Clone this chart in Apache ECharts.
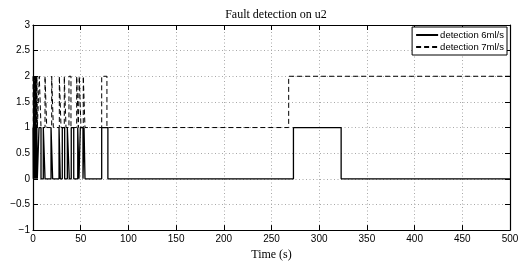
<!DOCTYPE html>
<html>
<head>
<meta charset="utf-8">
<script src="https://cdn.jsdelivr.net/npm/echarts@6/dist/echarts.min.js"></script>
<style>html,body{margin:0;padding:0;background:#fff}#c{width:526px;height:266px}</style>
</head>
<body>
<div id="c"></div>
<script>
// Switching times (s) and the value held from each time onwards
const det6Times  = [0,0.3,0.5,0.8,1.0,1.3,1.5,1.8,2.0,2.3,2.5,2.8,3.0,3.3,3.5,3.8,4.0,4.5,6.3,8.4,10.8,12.6,18.9,20.6,27.3,28.6,30.7,33.2,36,38,40.1,42.7,46.9,48.2,49.6,52.4,53.5,54.5,72,78.5,273,323,500];
const det6Values = [1,0,1,0,1,0,1,0,1,0,1,0,1,0,1,0,1,0,1,0,1,0,1,0,1,0,1,0,1,0,1,0,1,0,1,0,1,0,1,0,1,0,0];
const det7Times  = [0,0.4,0.6,0.9,1.1,1.4,1.6,1.9,2.1,2.4,2.6,2.9,3.1,3.4,3.6,3.9,4.1,4.6,6.6,8.4,12.6,14.4,19.6,21.3,27.6,29.4,32.8,34.6,37.7,39.8,45.8,47.5,48.5,50.3,52.7,54.5,72,77.5,268,500];
const det7Values = [2,1,2,1,2,1,2,1,2,1,2,1,2,1,2,1,2,1,2,1,2,1,2,1,2,1,2,1,2,1,2,1,2,1,2,1,2,1,2,2];
const xTicks = {min:0, max:500, interval:50};
const yTicks = {min:-1, max:3, interval:0.5};
const seriesNames = ['detection 6ml/s','detection 7ml/s'];

// staircase: hold each value until the next switching time
const stairs = (t,v) => {
  const out = [];
  for (let i = 0; i < t.length; i++) {
    if (i > 0) out.push([t[i], v[i-1]]);
    out.push([t[i], v[i]]);
  }
  return out;
};
const chart = echarts.init(document.getElementById('c'), null, {renderer:'canvas'});
const sans = 'Liberation Sans, Arial, Helvetica, sans-serif';
const serif = 'Liberation Serif, Times New Roman, serif';
const grid = {left:33, right:16, top:25, bottom:26};
const splitLine = {show:true, lineStyle:{color:'#a8a8a8', width:1, type:[1,2.5]}};
const axisLine = {show:true, onZero:false, lineStyle:{color:'#000', width:1.2}};
const tick = {show:true, inside:true, length:5, lineStyle:{color:'#000', width:1}};
const fmt = v => String(v).replace('-', '\u2212');

chart.setOption({
  animation:false,
  backgroundColor:'#fff',
  title:{text:'Fault detection on u2', left:271, top:4, textAlign:'center',
    textStyle:{fontFamily:serif, fontSize:12, fontWeight:'normal', color:'#000'}},
  grid:grid,
  legend:{
    data:[seriesNames[0], seriesNames[1]],
    orient:'vertical', right:19, top:27,
    backgroundColor:'#fff', borderColor:'#000', borderWidth:1,
    padding:[3,3,3,3], itemGap:2, itemWidth:22, itemHeight:9,
    itemStyle:{opacity:0},
    textStyle:{fontFamily:sans, fontSize:9.5, color:'#000', padding:[0,0,0,-3]}
  },
  xAxis:[
    {type:'value', position:'bottom', ...xTicks, axisLine, axisTick:tick, splitLine,
     axisLabel:{fontFamily:sans, fontSize:10, color:'#000', margin:4, formatter:fmt},
     name:'Time (s)', nameLocation:'middle', nameGap:16,
     nameTextStyle:{fontFamily:serif, fontSize:12, color:'#000'}},
    {type:'value', position:'top', ...xTicks, axisLine, axisTick:tick,
     splitLine:{show:false}, axisLabel:{show:false}}
  ],
  yAxis:[
    {type:'value', position:'left', ...yTicks, axisLine, axisTick:tick, splitLine,
     axisLabel:{fontFamily:sans, fontSize:10, color:'#000', margin:3, formatter:fmt}},
    {type:'value', position:'right', ...yTicks, axisLine, axisTick:tick,
     splitLine:{show:false}, axisLabel:{show:false}}
  ],
  series:[
    {name:seriesNames[1], type:'line', data:stairs(det7Times, det7Values),
     showSymbol:false, symbol:'none', z:2,
     lineStyle:{color:'#000', width:1, type:[5,3]}, itemStyle:{color:'#000'}},
    {name:seriesNames[0], type:'line', data:stairs(det6Times, det6Values),
     showSymbol:false, symbol:'none', z:3,
     lineStyle:{color:'#000', width:1.3, type:'solid'}, itemStyle:{color:'#000'}}
  ]
});
</script>
</body>
</html>
